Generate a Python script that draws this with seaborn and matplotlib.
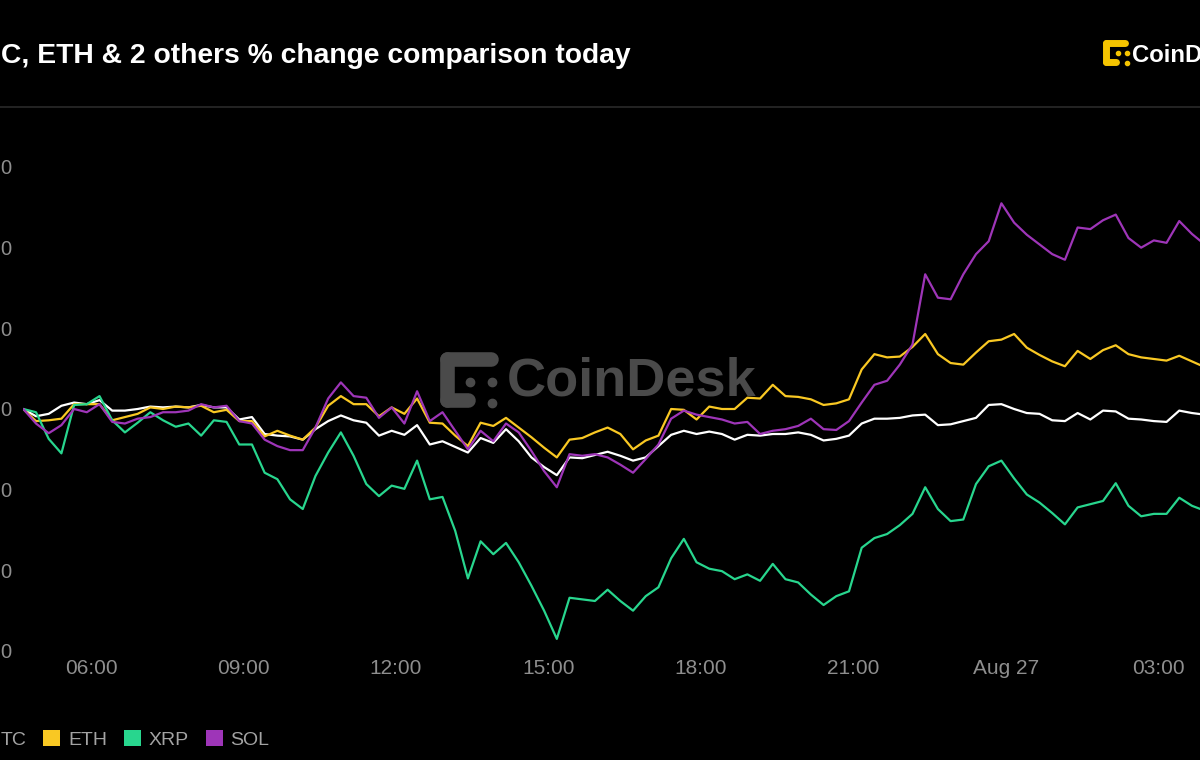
import numpy as np
import pandas as pd
import matplotlib
matplotlib.use("Agg")
import matplotlib.pyplot as plt
from matplotlib.lines import Line2D
from matplotlib.patches import Patch
import seaborn as sns

# ---------------- data ----------------
coins = ["BTC", "ETH", "XRP", "SOL"]
# the picture is cropped: only the visible part of each text is shown
legend_labels = ["TC", "ETH", "XRP", "SOL"]
colors = {"BTC": "#FFFFFF", "ETH": "#F9C823", "XRP": "#28D68E", "SOL": "#9E35B8"}
start_time = "2024-08-26 04:40"
step = "15min"

btc = [0.00, -0.09, -0.06, 0.04, 0.08, 0.06, 0.11, -0.02, -0.02, 0.00,
       0.03, 0.02, 0.03, 0.02, 0.05, 0.02, 0.02, -0.13, -0.10, -0.31,
       -0.33, -0.34, -0.38, -0.25, -0.15, -0.08, -0.14, -0.17, -0.33, -0.27,
       -0.32, -0.20, -0.44, -0.40, -0.47, -0.54, -0.36, -0.42, -0.25, -0.40,
       -0.60, -0.72, -0.82, -0.60, -0.61, -0.57, -0.53, -0.58, -0.64, -0.60,
       -0.46, -0.32, -0.27, -0.31, -0.28, -0.31, -0.38, -0.32, -0.33, -0.31,
       -0.31, -0.29, -0.32, -0.39, -0.37, -0.33, -0.18, -0.12, -0.12, -0.11,
       -0.08, -0.07, -0.20, -0.19, -0.15, -0.11, 0.05, 0.06, 0.00, -0.05,
       -0.06, -0.14, -0.15, -0.05, -0.13, -0.02, -0.03, -0.12, -0.13, -0.15,
       -0.16, -0.02, -0.05, -0.07]

eth = [0.00, -0.15, -0.14, -0.12, 0.06, 0.06, 0.06, -0.14, -0.10, -0.06,
       0.02, 0.00, 0.03, 0.02, 0.04, -0.04, -0.01, -0.15, -0.15, -0.34,
       -0.27, -0.33, -0.38, -0.23, 0.04, 0.16, 0.06, 0.06, -0.09, 0.02,
       -0.06, 0.13, -0.17, -0.18, -0.33, -0.46, -0.17, -0.21, -0.11, -0.23,
       -0.35, -0.48, -0.60, -0.38, -0.36, -0.29, -0.23, -0.31, -0.50, -0.39,
       -0.33, 0.00, -0.01, -0.13, 0.03, 0.00, 0.00, 0.14, 0.13, 0.30,
       0.16, 0.15, 0.12, 0.05, 0.07, 0.12, 0.49, 0.68, 0.64, 0.65,
       0.77, 0.93, 0.68, 0.57, 0.55, 0.70, 0.84, 0.86, 0.93, 0.76,
       0.67, 0.59, 0.53, 0.72, 0.62, 0.73, 0.79, 0.68, 0.64, 0.62,
       0.60, 0.66, 0.59, 0.52]

xrp = [0.00, -0.04, -0.37, -0.55, 0.05, 0.06, 0.16, -0.14, -0.29, -0.17,
       -0.04, -0.14, -0.22, -0.18, -0.33, -0.14, -0.16, -0.44, -0.44, -0.79,
       -0.87, -1.12, -1.24, -0.83, -0.54, -0.29, -0.58, -0.93, -1.08, -0.95,
       -0.99, -0.64, -1.12, -1.09, -1.51, -2.10, -1.64, -1.80, -1.66, -1.90,
       -2.19, -2.50, -2.85, -2.34, -2.36, -2.38, -2.24, -2.38, -2.50, -2.32,
       -2.21, -1.85, -1.61, -1.90, -1.98, -2.01, -2.11, -2.05, -2.13, -1.92,
       -2.11, -2.15, -2.30, -2.43, -2.32, -2.26, -1.72, -1.60, -1.55, -1.44,
       -1.30, -0.97, -1.24, -1.39, -1.37, -0.93, -0.71, -0.64, -0.86, -1.06,
       -1.16, -1.29, -1.43, -1.22, -1.18, -1.14, -0.92, -1.20, -1.33, -1.30,
       -1.30, -1.10, -1.20, -1.26]

sol = [0.00, -0.18, -0.30, -0.20, 0.00, -0.04, 0.06, -0.16, -0.18, -0.12,
       -0.10, -0.04, -0.04, -0.02, 0.06, 0.02, 0.04, -0.15, -0.18, -0.38,
       -0.46, -0.51, -0.51, -0.23, 0.13, 0.33, 0.16, 0.14, -0.11, 0.02,
       -0.18, 0.22, -0.15, -0.04, -0.27, -0.50, -0.27, -0.40, -0.18, -0.29,
       -0.52, -0.77, -0.97, -0.56, -0.58, -0.56, -0.60, -0.69, -0.79, -0.62,
       -0.44, -0.12, -0.02, -0.07, -0.10, -0.13, -0.18, -0.16, -0.31, -0.27,
       -0.25, -0.21, -0.12, -0.25, -0.26, -0.15, 0.08, 0.30, 0.35, 0.55,
       0.80, 1.67, 1.38, 1.36, 1.67, 1.92, 2.08, 2.55, 2.31, 2.16,
       2.04, 1.92, 1.85, 2.25, 2.23, 2.34, 2.41, 2.12, 2.00, 2.09,
       2.06, 2.33, 2.17, 2.04]

y_ticks = [3, 2, 1, 0, -1, -2, -3]
y_tick_labels = ["0", "0", "0", "0", "0", "0", "0"]   # visible tail of each cropped label
x_tick_times = ["2024-08-26 06:00", "2024-08-26 09:00", "2024-08-26 12:00",
                "2024-08-26 15:00", "2024-08-26 18:00", "2024-08-26 21:00",
                "2024-08-27 00:00", "2024-08-27 03:00"]
x_tick_labels = ["06:00", "09:00", "12:00", "15:00", "18:00", "21:00", "Aug 27", "03:00"]
x_limits = ("2024-08-26 04:40", "2024-08-27 03:49:30")
title = "C, ETH & 2 others % change comparison today"
brand = "CoinDesk"
brand_cropped = "CoinD"

# ---------------- frame ----------------
times = pd.date_range(start_time, periods=len(btc), freq=step)
df = pd.DataFrame({
    "time": np.tile(times, len(coins)),
    "coin": np.repeat(coins, len(btc)),
    "change": np.concatenate([btc, eth, xrp, sol]),
})

sns.set_style("dark")
plt.rcParams["font.family"] = ["Liberation Sans", "DejaVu Sans"]

W, H = 1200, 760
fig = plt.figure(figsize=(12, 7.6), dpi=100, facecolor="black")


def fx(px):
    return px / W


def fy(py):
    return 1 - py / H


ax_l, ax_r, ax_t, ax_b = 23.3, 1200, 167, 651
ax = fig.add_axes([fx(ax_l), fy(ax_b), (ax_r - ax_l) / W, (ax_b - ax_t) / H])
ax.set_facecolor("black")

sns.lineplot(data=df, x="time", y="change", hue="coin", hue_order=coins,
             palette=colors, linewidth=1.6, legend=False, ax=ax, estimator=None)

ax.set_xlim(pd.Timestamp(x_limits[0]), pd.Timestamp(x_limits[1]))
ax.set_ylim(-3, 3)
ax.set_yticks(y_ticks, labels=y_tick_labels)
ax.set_xticks(pd.to_datetime(x_tick_times), labels=x_tick_labels)
ax.tick_params(axis="y", length=0, pad=8.6, labelsize=14.5, labelcolor="#8e8e8e")
ax.tick_params(axis="x", length=0, pad=6, labelsize=15, labelcolor="#8e8e8e")
ax.grid(False)
for s in ax.spines.values():
    s.set_visible(False)
ax.set_xlabel("")
ax.set_ylabel("")

# ---------------- watermark ----------------
wm = "#4a4a4a"
ax.text(fx(507), fy(396), brand, transform=fig.transFigure, fontsize=39,
        fontweight="bold", color=wm, va="baseline", ha="left", zorder=0.5,
        clip_on=False)
for xs, ys in [([447, 491], [359, 359]), ([447, 447], [359, 400]), ([447, 468], [400, 400])]:
    ax.add_line(Line2D([fx(v) for v in xs], [fy(v) for v in ys], transform=fig.transFigure,
                       color=wm, lw=10.5, solid_capstyle="round", zorder=0.5, clip_on=False))
ax.add_line(Line2D([fx(470), fx(492), fx(492)], [fy(382), fy(382), fy(403)],
                   transform=fig.transFigure, linestyle="none", marker="o", markersize=6,
                   color=wm, zorder=0.5, clip_on=False))

# ---------------- header ----------------
fig.text(fx(0.8), fy(63), title, fontsize=20.3, fontweight="bold", color="white",
         va="baseline", ha="left")
fig.add_artist(Line2D([0, 1], [fy(107), fy(107)], color="#2a2a2a", lw=1.2))

logo_c = "#F5C400"
for xs, ys in [([1106, 1124.5], [42.5, 42.5]), ([1106, 1106], [42.5, 61.5]), ([1106, 1116], [61.5, 61.5])]:
    fig.add_artist(Line2D([fx(v) for v in xs], [fy(v) for v in ys], color=logo_c, lw=5,
                          solid_capstyle="round"))
fig.add_artist(Line2D([fx(1118), fx(1126.5), fx(1126.5)], [fy(53), fy(53), fy(63)],
                      linestyle="none", marker="o", markersize=3, color=logo_c))
fig.text(fx(1132), fy(62), brand_cropped, fontsize=17.2, fontweight="bold", color="white",
         va="baseline", ha="left")

# ---------------- legend ----------------
handles = [Patch(facecolor=colors[c], edgecolor="none") for c in coins]
fig.legend(handles=handles, labels=legend_labels, loc="center left",
           bbox_to_anchor=(fx(-24.3), fy(739.5)), ncol=4, frameon=False, fontsize=14,
           handlelength=0.88, handleheight=0.88, handletextpad=0.41,
           columnspacing=0.85, borderpad=0, borderaxespad=0, labelcolor="#a3a3a3")

fig.savefig("out.png", dpi=100, facecolor="black")
